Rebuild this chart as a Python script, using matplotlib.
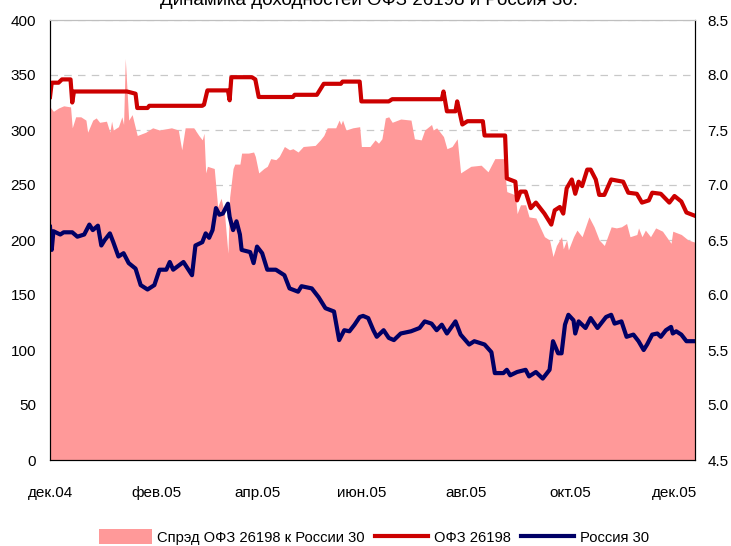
import matplotlib
matplotlib.use("Agg")
import matplotlib.pyplot as plt
import pandas as pd

plt.rcParams["font.family"] = ["Liberation Sans", "DejaVu Sans"]
plt.rcParams["font.size"] = 11

# ОФЗ 26198, yield %, right axis
ofz_dates = [
    "2004-12-01", "2004-12-02", "2004-12-06", "2004-12-08", "2004-12-13", "2004-12-14", "2004-12-15",
    "2005-01-15", "2005-01-20", "2005-01-21", "2005-01-27", "2005-01-28", "2005-02-28", "2005-03-01",
    "2005-03-03", "2005-03-15", "2005-03-16", "2005-03-17", "2005-03-29", "2005-03-31", "2005-04-02",
    "2005-04-22", "2005-04-23", "2005-05-06", "2005-05-10", "2005-05-20", "2005-05-21", "2005-05-31",
    "2005-06-01", "2005-06-17", "2005-06-19", "2005-07-18", "2005-07-19", "2005-07-21", "2005-07-26",
    "2005-07-27", "2005-07-30", "2005-08-02", "2005-08-11", "2005-08-12", "2005-08-24", "2005-08-25",
    "2005-08-30", "2005-08-31", "2005-09-02", "2005-09-05", "2005-09-08", "2005-09-11", "2005-09-16",
    "2005-09-20", "2005-09-22", "2005-09-25", "2005-09-27", "2005-09-29", "2005-10-02", "2005-10-04",
    "2005-10-06", "2005-10-08", "2005-10-11", "2005-10-13", "2005-10-16", "2005-10-18", "2005-10-21",
    "2005-10-25", "2005-11-01", "2005-11-04", "2005-11-09", "2005-11-12", "2005-11-16", "2005-11-18",
    "2005-11-23", "2005-11-28", "2005-12-01", "2005-12-05", "2005-12-08", "2005-12-13",
]
ofz_yield = [
    7.80, 7.93, 7.93, 7.96, 7.96, 7.75, 7.85,
    7.85, 7.83, 7.70, 7.70, 7.72, 7.72, 7.73,
    7.86, 7.86, 7.77, 7.98, 7.98, 7.96, 7.80,
    7.80, 7.82, 7.82, 7.92, 7.92, 7.94, 7.94,
    7.76, 7.76, 7.78, 7.78, 7.85, 7.67, 7.67,
    7.76, 7.55, 7.58, 7.58, 7.45, 7.45, 7.06,
    7.03, 6.86, 6.94, 6.94, 6.79, 6.84, 6.74,
    6.64, 6.77, 6.80, 6.74, 6.97, 7.05, 6.92,
    7.03, 6.99, 7.14, 7.14, 7.05, 6.91, 6.91,
    7.05, 7.03, 6.93, 6.92, 6.84, 6.86, 6.93,
    6.92, 6.84, 6.90, 6.85, 6.75, 6.72,
]

# Россия 30, yield %, right axis
rus_dates = [
    "2004-12-01", "2004-12-02", "2004-12-03", "2004-12-07", "2004-12-09", "2004-12-14", "2004-12-17",
    "2004-12-21", "2004-12-24", "2004-12-26", "2004-12-29", "2004-12-31", "2005-01-02", "2005-01-05",
    "2005-01-07", "2005-01-10", "2005-01-13", "2005-01-16", "2005-01-20", "2005-01-23", "2005-01-27",
    "2005-01-31", "2005-02-03", "2005-02-07", "2005-02-09", "2005-02-11", "2005-02-17", "2005-02-22",
    "2005-02-24", "2005-02-28", "2005-03-02", "2005-03-04", "2005-03-06", "2005-03-08", "2005-03-10",
    "2005-03-12", "2005-03-15", "2005-03-16", "2005-03-18", "2005-03-20", "2005-03-22", "2005-03-23",
    "2005-03-28", "2005-03-30", "2005-04-01", "2005-04-04", "2005-04-07", "2005-04-12", "2005-04-17",
    "2005-04-20", "2005-04-25", "2005-04-27", "2005-05-03", "2005-05-07", "2005-05-11", "2005-05-16",
    "2005-05-19", "2005-05-22", "2005-05-25", "2005-05-28", "2005-05-31", "2005-06-02", "2005-06-05",
    "2005-06-08", "2005-06-10", "2005-06-14", "2005-06-17", "2005-06-20", "2005-06-24", "2005-06-30",
    "2005-07-05", "2005-07-08", "2005-07-12", "2005-07-15", "2005-07-18", "2005-07-21", "2005-07-26",
    "2005-07-29", "2005-08-03", "2005-08-06", "2005-08-12", "2005-08-16", "2005-08-18", "2005-08-23",
    "2005-08-25", "2005-08-27", "2005-08-31", "2005-09-05", "2005-09-07", "2005-09-11", "2005-09-15",
    "2005-09-19", "2005-09-21", "2005-09-24", "2005-09-26", "2005-09-28", "2005-09-30", "2005-10-03",
    "2005-10-04", "2005-10-06", "2005-10-10", "2005-10-13", "2005-10-17", "2005-10-22", "2005-10-25",
    "2005-10-27", "2005-10-31", "2005-11-03", "2005-11-07", "2005-11-10", "2005-11-13", "2005-11-15",
    "2005-11-18", "2005-11-21", "2005-11-23", "2005-11-26", "2005-11-29", "2005-11-30", "2005-12-02",
    "2005-12-05", "2005-12-08", "2005-12-13",
]
rus_yield = [
    6.62, 6.41, 6.58, 6.55, 6.57, 6.57, 6.53,
    6.55, 6.64, 6.59, 6.63, 6.45, 6.50, 6.56,
    6.48, 6.35, 6.38, 6.29, 6.24, 6.09, 6.05,
    6.09, 6.23, 6.23, 6.30, 6.23, 6.30, 6.18,
    6.45, 6.48, 6.56, 6.52, 6.59, 6.79, 6.73,
    6.74, 6.83, 6.71, 6.59, 6.67, 6.55, 6.41,
    6.39, 6.29, 6.44, 6.38, 6.23, 6.23, 6.18,
    6.06, 6.03, 6.08, 6.06, 5.98, 5.88, 5.85,
    5.59, 5.68, 5.67, 5.73, 5.80, 5.81, 5.79,
    5.68, 5.62, 5.68, 5.61, 5.59, 5.65, 5.67,
    5.70, 5.76, 5.74, 5.68, 5.73, 5.65, 5.76,
    5.64, 5.55, 5.58, 5.55, 5.48, 5.29, 5.29,
    5.32, 5.27, 5.30, 5.32, 5.26, 5.30, 5.24,
    5.32, 5.58, 5.47, 5.47, 5.73, 5.82, 5.77,
    5.65, 5.76, 5.70, 5.79, 5.70, 5.80, 5.82,
    5.74, 5.76, 5.62, 5.64, 5.58, 5.50, 5.55,
    5.64, 5.65, 5.62, 5.68, 5.71, 5.65, 5.67,
    5.64, 5.58, 5.58,
]

# spread, bp, left axis
spr_dates = [
    "2004-12-01", "2004-12-03", "2004-12-06", "2004-12-09", "2004-12-13", "2004-12-14", "2004-12-16",
    "2004-12-19", "2004-12-22", "2004-12-23", "2004-12-26", "2004-12-28", "2004-12-30", "2005-01-03",
    "2005-01-05", "2005-01-06", "2005-01-07", "2005-01-10", "2005-01-12", "2005-01-13", "2005-01-14",
    "2005-01-16", "2005-01-18", "2005-01-21", "2005-01-26", "2005-01-30", "2005-02-03", "2005-02-10",
    "2005-02-14", "2005-02-16", "2005-02-18", "2005-02-23", "2005-02-26", "2005-02-28", "2005-03-01",
    "2005-03-02", "2005-03-03", "2005-03-07", "2005-03-09", "2005-03-11", "2005-03-13", "2005-03-15",
    "2005-03-16", "2005-03-18", "2005-03-19", "2005-03-22", "2005-03-23", "2005-03-27", "2005-03-30",
    "2005-03-31", "2005-04-02", "2005-04-05", "2005-04-07", "2005-04-09", "2005-04-12", "2005-04-14",
    "2005-04-17", "2005-04-20", "2005-04-22", "2005-04-25", "2005-04-28", "2005-05-05", "2005-05-08",
    "2005-05-10", "2005-05-12", "2005-05-17", "2005-05-19", "2005-05-20", "2005-05-21", "2005-05-23",
    "2005-05-27", "2005-05-31", "2005-06-01", "2005-06-06", "2005-06-09", "2005-06-11", "2005-06-13",
    "2005-06-15", "2005-06-17", "2005-06-19", "2005-06-24", "2005-06-30", "2005-07-02", "2005-07-06",
    "2005-07-08", "2005-07-12", "2005-07-13", "2005-07-15", "2005-07-19", "2005-07-21", "2005-07-24",
    "2005-07-27", "2005-07-29", "2005-08-04", "2005-08-10", "2005-08-14", "2005-08-18", "2005-08-23",
    "2005-08-25", "2005-08-30", "2005-08-31", "2005-09-02", "2005-09-05", "2005-09-07", "2005-09-11",
    "2005-09-16", "2005-09-19", "2005-09-21", "2005-09-23", "2005-09-26", "2005-09-27", "2005-09-29",
    "2005-09-30", "2005-10-03", "2005-10-05", "2005-10-08", "2005-10-12", "2005-10-15", "2005-10-18",
    "2005-10-21", "2005-10-25", "2005-10-28", "2005-10-31", "2005-11-03", "2005-11-05", "2005-11-09",
    "2005-11-10", "2005-11-12", "2005-11-14", "2005-11-17", "2005-11-20", "2005-11-24", "2005-11-29",
    "2005-11-30", "2005-12-05", "2005-12-09", "2005-12-13",
]
spread = [
    321, 317, 320, 322, 321, 302, 312,
    312, 309, 298, 309, 311, 307, 308,
    298, 308, 300, 303, 312, 305, 365,
    309, 314, 295, 298, 302, 300, 302,
    300, 282, 302, 302, 295, 291, 297,
    261, 267, 265, 230, 238, 224, 188,
    239, 265, 269, 269, 279, 279, 280,
    276, 261, 265, 267, 274, 273, 276,
    285, 282, 283, 280, 285, 286, 291,
    295, 302, 302, 309, 305, 309, 300,
    302, 303, 285, 285, 291, 288, 292,
    311, 312, 307, 310, 309, 292, 291,
    300, 305, 300, 302, 294, 283, 285,
    292, 261, 267, 268, 262, 274, 274,
    244, 241, 224, 232, 232, 221, 220,
    203, 200, 185, 195, 203, 192, 200,
    191, 203, 209, 203, 221, 212, 200,
    195, 212, 211, 212, 215, 203, 205,
    211, 203, 209, 203, 211, 208, 197,
    208, 205, 200, 198,
]

tick_dates = ["2004-12-01", "2005-02-01", "2005-04-01", "2005-06-01",
              "2005-08-01", "2005-10-01", "2005-12-01"]
tick_labels = ["дек.04", "фев.05", "апр.05", "июн.05", "авг.05", "окт.05", "дек.05"]

ofz_x = pd.to_datetime(ofz_dates)
rus_x = pd.to_datetime(rus_dates)
spr_x = pd.to_datetime(spr_dates)

fig = plt.figure(figsize=(7.31, 5.46), dpi=100)
ax = fig.add_axes([50 / 731, 86 / 546, 645 / 731, 440 / 546])

ax.fill_between(spr_x, spread, 0, color="#FF9999", lw=0, zorder=2,
                label="Спрэд ОФЗ 26198 к России 30")
ax.set_ylim(0, 400)
ax.set_yticks(range(0, 401, 50))
ax.grid(axis="y", color="#C8C8C8", linestyle=(0, (6, 5)), linewidth=0.9, zorder=0)
ax.set_axisbelow(True)
ax.set_xlim(pd.Timestamp("2004-12-01"), pd.Timestamp("2005-12-13"))
ax.set_xticks(pd.to_datetime(tick_dates))
ax.set_xticklabels(tick_labels)
ax.tick_params(axis="both", length=0)
ax.tick_params(axis="x", pad=19)
ax.tick_params(axis="y", pad=10)

ax2 = ax.twinx()
ax2.plot(ofz_x, ofz_yield, color="#CC0000", lw=3.0, label="ОФЗ 26198", solid_joinstyle="round")
ax2.plot(rus_x, rus_yield, color="#000066", lw=3.0, label="Россия 30", solid_joinstyle="round")
ax2.set_ylim(4.5, 8.5)
ax2.set_yticks([4.5, 5.0, 5.5, 6.0, 6.5, 7.0, 7.5, 8.0, 8.5])
ax2.set_yticklabels(["4.5", "5.0", "5.5", "6.0", "6.5", "7.0", "7.5", "8.0", "8.5"])
ax2.tick_params(axis="y", length=0, pad=9)

for a in (ax, ax2):
    a.spines["top"].set_color("#BFBFBF")
    a.spines["left"].set_color("black")
    a.spines["right"].set_color("black")
    a.spines["bottom"].set_color("black")

fig.text(0.505, 1 - 5 / 546, "Динамика доходностей ОФЗ 26198 и Россия 30.",
         ha="center", va="baseline", fontsize=13.5)

h1, l1 = ax.get_legend_handles_labels()
h2, l2 = ax2.get_legend_handles_labels()
fig.legend(h1 + h2, l1 + l2, loc="center", bbox_to_anchor=(374 / 731, 1 - 537 / 546),
           ncol=3, frameon=False, fontsize=10.6, handlelength=3.6, handleheight=1.2,
           handletextpad=0.4, columnspacing=0.7)

fig.savefig("out.png", dpi=100)
